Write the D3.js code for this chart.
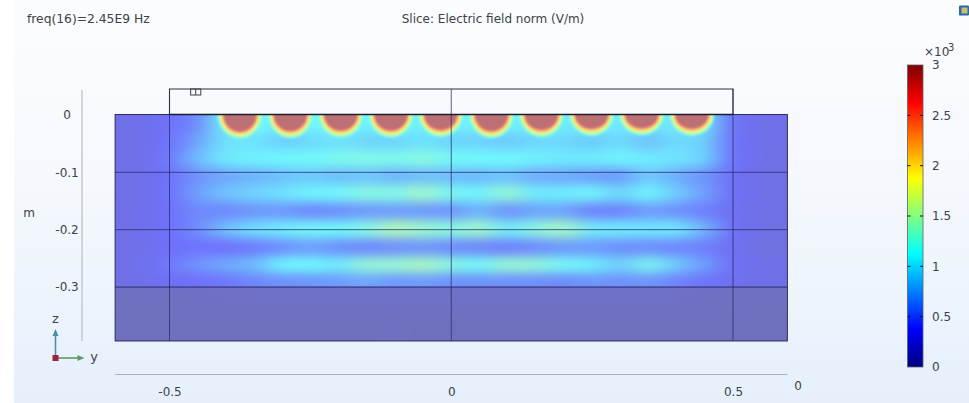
<!DOCTYPE html>
<html><head><meta charset="utf-8">
<script src="https://d3js.org/d3.v7.min.js"></script>
<style>html,body{margin:0;padding:0;background:#fff}svg{display:block}text{font-family:"DejaVu Sans",sans-serif;fill:#3d4148}</style>
</head><body><svg id="c" width="969" height="403"></svg>
<script>
// ---------- data ----------
const title = "Slice: Electric field norm (V/m)";
const freqLabel = "freq(16)=2.45E9 Hz";
const yTicks = [-0.5, 0, 0.5];
const zTicks = [0, -0.1, -0.2, -0.3];
const colorTicks = [0, 0.5, 1, 1.5, 2, 2.5, 3];
const colorDomain = [0, 0.375, 1.125, 1.875, 2.625, 3];
const colorRange = ["#00007f", "#0000ff", "#00ffff", "#ffff00", "#ff0000", "#7f0000"];
const columns = [-0.6,-0.55,-0.5,-0.45,-0.4,-0.35,-0.3,-0.25,-0.2,-0.15,-0.1,-0.05,0,0.05,0.1,0.15,0.2,0.25,0.3,0.35,0.4,0.45,0.5,0.55,0.6];
const rowDepths = [-0.015,-0.05,-0.076,-0.11,-0.137,-0.17,-0.2,-0.233,-0.264,-0.29];
const row015 = [.25,.27,.36,.52,1.08,1.12,1.08,1.12,1.12,1.08,1.12,1.08,1.08,1.08,1.08,1.08,1.05,1.05,1.05,1.0,1.05,1.0,.36,.27,.25];
const row050 = [.25,.27,.38,.66,1.0,1.0,.88,.94,1.0,.92,.9,1.0,.9,.92,.84,.94,.94,.86,.96,.8,.96,.9,.36,.27,.25];
const row076 = [.25,.27,.42,.8,1.05,1.08,1.12,1.14,1.2,1.24,1.2,1.28,1.15,1.12,1.14,1.08,1.04,1.05,1.1,1.05,1.02,.92,.38,.27,.24];
const row110 = [.24,.27,.38,.56,.68,.74,.8,.86,.78,.84,.74,.8,.78,.76,.82,.7,.68,.64,.58,.88,.7,.56,.34,.26,.24];
const row137 = [.24,.27,.38,.64,.84,.92,1.0,1.1,1.14,1.28,1.22,1.42,1.18,1.1,1.36,1.05,1.05,1.14,.92,1.12,.88,.64,.36,.26,.24];
const row170 = [.24,.27,.36,.52,.5,.58,.6,.5,.54,.6,.62,.6,.56,.76,.54,.66,.66,.46,.48,.62,.56,.46,.32,.24,.22];
const row200 = [.24,.28,.38,.52,.82,.98,1.05,1.16,1.12,1.25,1.5,1.38,1.25,1.42,1.05,1.28,1.45,1.05,1.05,1.02,1.05,.74,.34,.25,.23];
const row233 = [.24,.27,.36,.4,.38,.44,.54,.64,.54,.5,.54,.58,.52,.5,.46,.52,.6,.6,.54,.54,.5,.46,.32,.22,.22];
const row264 = [.25,.28,.42,.58,.7,.78,1.12,1.12,1.05,1.34,1.34,1.46,1.26,1.14,1.36,1.32,1.16,1.08,.88,1.2,.88,.62,.36,.26,.24];
const row290 = [.24,.26,.33,.36,.42,.5,.55,.58,.6,.68,.58,.62,.55,.56,.55,.55,.52,.58,.55,.58,.48,.4,.3,.25,.24];
const fieldRows = [row015,row050,row076,row110,row137,row170,row200,row233,row264,row290];
const lowerDepths = [-0.32,-0.36];
const lowerRowA = [.05,.05,.06,.07,.08,.08,.09,.09,.09,.09,.09,.09,.08,.09,.09,.09,.09,.09,.09,.09,.08,.07,.06,.05,.05];
const lowerRowB = [.03,.03,.03,.03,.03,.03,.03,.03,.03,.03,.04,.03,.03,.03,.03,.03,.03,.03,.03,.03,.03,.03,.03,.03,.03];
const lowerRows = [lowerRowA,lowerRowB];
const domeCentres = [-0.375,-0.2855,-0.196,-0.107,-0.0186,0.0713,0.16,0.249,0.338,0.427];
const domeDepths = [0.029,0.028,0.027,0.027,0.026,0.028,0.026,0.024,0.023,0.024];
const domeHalfWidth = 0.0285;
const domeLevels = [1.3,1.55,1.85,2.15,2.5,2.95];
const domeMargins = [0.0135,0.0105,0.0075,0.005,0.0022,0];
const boxY = [-0.5, 0.5];
const boxZ = [0, 0.0445];
const tinyBoxY = [-0.4625,-0.4535,-0.4445];
const tinyBoxZ = [0.0445,0.034];
const domainY = [-0.5965, 0.5965];
const domainZ = [0, -0.395];

// ---------- scales ----------
const W = 969, H = 403;
const x = d3.scaleLinear().domain([-0.5,0.5]).range([169.5,733]);
const z = d3.scaleLinear().domain([0,-0.3]).range([114.5,286.5]);
const color = d3.scaleLinear().domain(colorDomain).range(colorRange);
const barY = d3.scaleLinear().domain([0,3]).range([367,65]);

const svg = d3.select("#c");
const defs = svg.append("defs");

// page background
const bg = defs.append("linearGradient").attr("id","bg").attr("x1",0).attr("x2",0).attr("y1",0).attr("y2",1);
[[0,"#fbfcfe"],[.45,"#f5f8fd"],[.75,"#edf4fc"],[1,"#e5f0fb"]].forEach(d=>bg.append("stop").attr("offset",d[0]).attr("stop-color",d[1]));
svg.append("rect").attr("width",W).attr("height",H).attr("fill","#fff");
svg.append("rect").attr("x",14).attr("width",W-14).attr("height",H).attr("fill","url(#bg)");

// filters
const fF = defs.append("filter").attr("id","soft").attr("filterUnits","userSpaceOnUse")
  .attr("x",0).attr("y",40).attr("width",W).attr("height",H-40).attr("color-interpolation-filters","sRGB");
fF.append("feGaussianBlur").attr("stdDeviation","12 5.5");
const fD = defs.append("filter").attr("id","domeBlur").attr("filterUnits","userSpaceOnUse")
  .attr("x",0).attr("y",40).attr("width",W).attr("height",H-40).attr("color-interpolation-filters","sRGB");
fD.append("feGaussianBlur").attr("stdDeviation","1.2");
const fL = defs.append("filter").attr("id","lowBlur").attr("filterUnits","userSpaceOnUse")
  .attr("x",0).attr("y",40).attr("width",W).attr("height",H-40).attr("color-interpolation-filters","sRGB");
fL.append("feGaussianBlur").attr("stdDeviation","14 8");

defs.append("clipPath").attr("id","upper").append("rect")
  .attr("x",x(domainY[0])).attr("y",z(0)).attr("width",x(domainY[1])-x(domainY[0])).attr("height",z(-0.3)-z(0));
defs.append("clipPath").attr("id","lower").append("rect")
  .attr("x",x(domainY[0])).attr("y",z(-0.3)).attr("width",x(domainY[1])-x(domainY[0])).attr("height",z(domainZ[1])-z(-0.3));

// domain base
svg.append("rect").attr("x",x(domainY[0])).attr("y",z(0)).attr("width",x(domainY[1])-x(domainY[0]))
  .attr("height",z(domainZ[1])-z(0)).attr("fill","#f1f4fb");

function cellEdges(vals, pad){
  return vals.map((v,i)=>[
    i===0 ? v+pad : (v+vals[i-1])/2,
    i===vals.length-1 ? v-pad : (v+vals[i+1])/2 ]);
}
const colEdges = columns.map((c,i)=>[
  i===0 ? c-0.1 : (c+columns[i-1])/2,
  i===columns.length-1 ? c+0.1 : (c+columns[i+1])/2 ]);

function drawRows(group, rows, depths, pad){
  const edges = cellEdges(depths, pad);
  rows.forEach((vals,r)=>{
    group.append("g").selectAll("rect").data(vals).join("rect")
      .attr("x",(d,i)=>x(colEdges[i][0])-0.5)
      .attr("width",(d,i)=>x(colEdges[i][1])-x(colEdges[i][0])+1)
      .attr("y",z(edges[r][0])-0.5)
      .attr("height",z(edges[r][1])-z(edges[r][0])+1)
      .attr("fill",d=>color(d));
  });
}

const OP = 0.54;
// lower layer
const lowG = svg.append("g").attr("clip-path","url(#lower)").attr("opacity",OP).append("g").attr("filter","url(#lowBlur)");
drawRows(lowG, lowerRows, lowerDepths, 0.08);

// upper field
const upG = svg.append("g").attr("clip-path","url(#upper)").attr("opacity",OP);
drawRows(upG.append("g").attr("filter","url(#soft)"), fieldRows, rowDepths, 0.05);

// domes: nested level sets, outermost first
const domeG = upG.append("g").attr("filter","url(#domeBlur)");
domeLevels.forEach((lv,k)=>{
  domeG.append("g").selectAll("ellipse").data(domeCentres).join("ellipse")
    .attr("cx",d=>x(d))
    .attr("cy",z(0))
    .attr("rx",d=>x(d+domeHalfWidth+domeMargins[k]*0.85)-x(d))
    .attr("ry",(d,i)=>z(-(domeDepths[i]+domeMargins[k]))-z(0))
    .attr("fill",color(lv));
});

// mesh lines
const lineC = "#25255f";
const lines = svg.append("g").attr("fill","none");
[-0.1,-0.2].forEach(v=>lines.append("line").attr("x1",x(domainY[0])).attr("x2",x(domainY[1])).attr("y1",z(v)+.5).attr("y2",z(v)+.5).attr("stroke",lineC).attr("stroke-opacity",.72));
lines.append("line").attr("x1",x(domainY[0])).attr("x2",x(domainY[1])).attr("y1",z(-0.3)+.5).attr("y2",z(-0.3)+.5).attr("stroke","#1b1b66").attr("stroke-opacity",.9);
[boxY[0],0,boxY[1]].forEach(v=>lines.append("line").attr("x1",x(v)).attr("x2",x(v)).attr("y1",z(boxZ[1])).attr("y2",z(domainZ[1])).attr("stroke",lineC).attr("stroke-opacity",.72));
lines.append("rect").attr("x",x(domainY[0])).attr("y",z(0)).attr("width",x(domainY[1])-x(domainY[0])).attr("height",z(domainZ[1])-z(0)).attr("stroke","#2c2c60");
lines.append("path").attr("d",d3.line()([[x(boxY[0]),z(0)],[x(boxY[0]),z(boxZ[1])],[x(boxY[1]),z(boxZ[1])],[x(boxY[1]),z(0)]])).attr("stroke","#303038").attr("stroke-width",1.1);
lines.append("line").attr("x1",x(boxY[0])).attr("x2",x(boxY[1])).attr("y1",z(0)).attr("y2",z(0)).attr("stroke","#1c1c2c").attr("stroke-width",1.4);
lines.append("rect").attr("x",x(tinyBoxY[0])).attr("y",z(tinyBoxZ[0])).attr("width",x(tinyBoxY[2])-x(tinyBoxY[0])).attr("height",z(tinyBoxZ[1])-z(tinyBoxZ[0])).attr("stroke","#40404a");
lines.append("line").attr("x1",x(tinyBoxY[1])).attr("x2",x(tinyBoxY[1])).attr("y1",z(tinyBoxZ[0])).attr("y2",z(tinyBoxZ[1])).attr("stroke","#40404a");

// axes
const axL = d3.axisLeft(z).tickValues(zTicks).tickSize(0).tickFormat(d3.format("~g"));
const gL = svg.append("g").attr("transform","translate(82,0)").call(axL);
gL.select(".domain").attr("d",`M0,90V341`).attr("stroke","#aeb2b8").attr("stroke-width",1).attr("fill","none");
gL.selectAll("text").attr("x",-15).attr("text-anchor","middle").attr("font-size",12).attr("dy",".36em").text(d=>d3.format("~g")(d).replace("−","-"));
const axB = d3.axisBottom(x).tickValues(yTicks).tickSize(0).tickFormat(d3.format("~g"));
const gB = svg.append("g").attr("transform","translate(0,374.5)").call(axB);
gB.select(".domain").attr("d",`M${x(domainY[0])},0H${x(domainY[1])}`).attr("stroke","#aeb2b8").attr("stroke-width",1).attr("fill","none");
gB.selectAll("text").attr("y",17).attr("dy",".36em").attr("font-size",12).text(d=>d3.format("~g")(d).replace("−","-"));

svg.append("text").attr("x",798).attr("y",390).attr("text-anchor","middle").attr("font-size",12).text("0");
svg.append("text").attr("x",29).attr("y",217).attr("text-anchor","middle").attr("font-size",12).text("m");
svg.append("text").attr("x",27).attr("y",23).attr("font-size",12.3).text(freqLabel);
svg.append("text").attr("x",493).attr("y",23).attr("text-anchor","middle").attr("font-size",12).text(title);

// triad
const tx = 55.5, ty = 358;
svg.append("line").attr("x1",tx).attr("x2",tx).attr("y1",ty).attr("y2",ty-24).attr("stroke","#4f8ea8").attr("stroke-width",1.6);
svg.append("path").attr("d",`M${tx-3},${ty-22}L${tx},${ty-29}L${tx+3},${ty-22}Z`).attr("fill","#4f8ea8");
svg.append("line").attr("x1",tx).attr("x2",tx+24).attr("y1",ty).attr("y2",ty).attr("stroke","#5c9a62").attr("stroke-width",1.6);
svg.append("path").attr("d",`M${tx+22},${ty-3}L${tx+29},${ty}L${tx+22},${ty+3}Z`).attr("fill","#5c9a62");
svg.append("rect").attr("x",tx-3).attr("y",ty-3).attr("width",6).attr("height",6).attr("fill","#a0203f");
svg.append("text").attr("x",55.5).attr("y",323).attr("text-anchor","middle").attr("font-size",13).text("z");
svg.append("text").attr("x",94).attr("y",361).attr("text-anchor","middle").attr("font-size",13).text("y");

// colour bar
const grad = defs.append("linearGradient").attr("id","jet").attr("x1",0).attr("x2",0).attr("y1",1).attr("y2",0);
colorDomain.forEach(v=>grad.append("stop").attr("offset",v/3).attr("stop-color",color(v)));
svg.append("rect").attr("x",907.5).attr("y",barY(3)).attr("width",15.5).attr("height",barY(0)-barY(3)).attr("fill","url(#jet)").attr("stroke","#5c6068").attr("stroke-opacity",.8);
const tk = svg.append("g").selectAll("g").data(colorTicks).join("g").attr("transform",d=>`translate(0,${barY(d)})`);
tk.filter(d=>d>0&&d<3).append("path").attr("d","M907.5,0h3M923,0h-3").attr("stroke","#111");
tk.append("text").attr("x",932).attr("dy",".36em").attr("font-size",12).text(d=>d3.format("~g")(d));
svg.append("text").attr("x",924).attr("y",56).attr("font-size",12).text("×10");
svg.append("text").attr("x",948).attr("y",51).attr("font-size",10).text("3");

// window icon
svg.append("rect").attr("x",959).attr("y",5.5).attr("width",10).attr("height",10).attr("fill","#2a67ad").attr("rx",1);
svg.append("rect").attr("x",961.5).attr("y",7.5).attr("width",6).attr("height",6).attr("fill","#c9bf6a");
</script></body></html>
